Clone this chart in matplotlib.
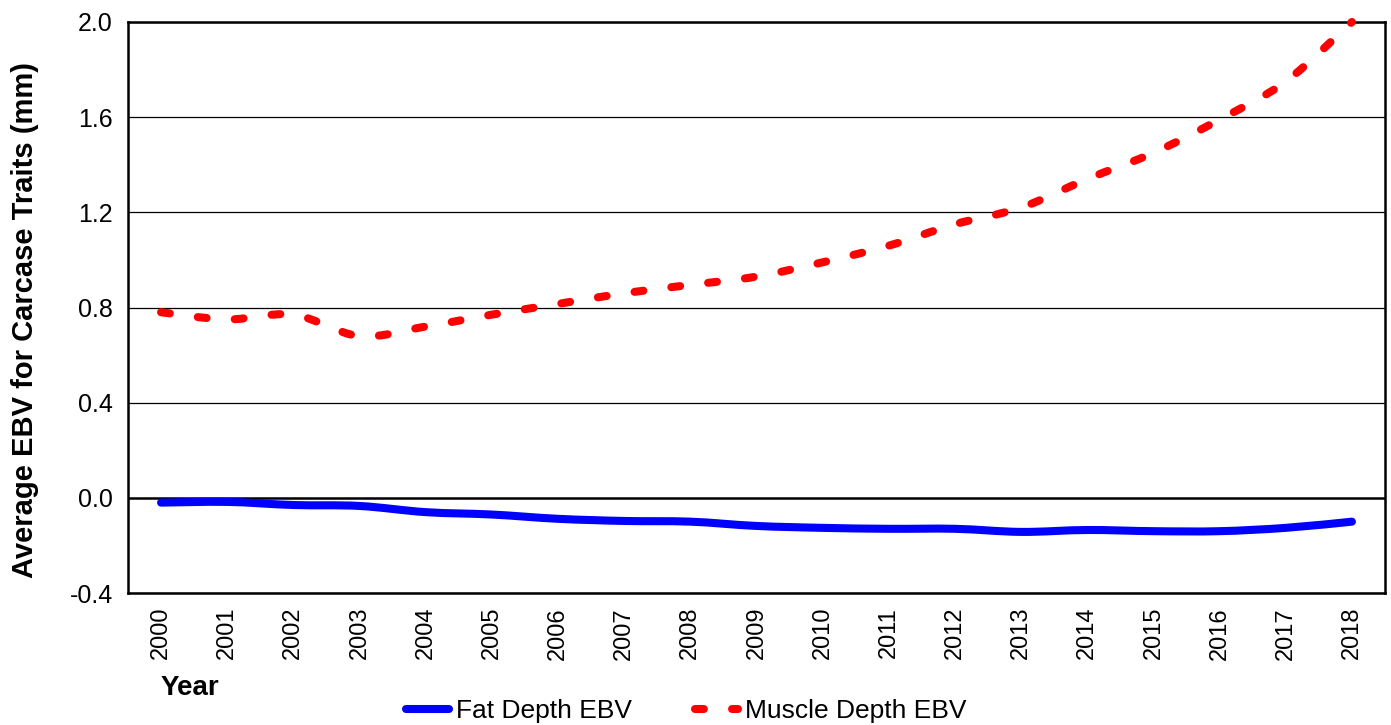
import matplotlib
matplotlib.use("Agg")
import matplotlib.pyplot as plt
import numpy as np
from matplotlib.path import Path
from matplotlib.patches import PathPatch
from matplotlib.lines import Line2D

years = [str(y) for y in range(2000, 2019)]
fat_depth = [-0.020, -0.017, -0.030, -0.034, -0.060, -0.070, -0.088, -0.097, -0.100,
             -0.118, -0.126, -0.130, -0.130, -0.143, -0.135, -0.140, -0.140, -0.126, -0.100]
muscle_depth = [0.78, 0.75, 0.77, 0.68, 0.72, 0.77, 0.815, 0.86, 0.895,
                0.93, 0.99, 1.06, 1.15, 1.22, 1.34, 1.45, 1.59, 1.75, 2.00]
y_ticks = [-0.4, 0.0, 0.4, 0.8, 1.2, 1.6, 2.0]

plt.rcParams['font.family'] = ['Liberation Sans', 'DejaVu Sans']

fig = plt.figure(figsize=(13.91, 7.25), dpi=100)
ax = fig.add_axes([0.092, 0.182, 0.9037, 0.7877])


def smooth_path(xs, ys):
    """Catmull-Rom style smoothed Bezier path through the data points."""
    pts = np.column_stack([xs, ys]).astype(float)
    n = len(pts)
    verts = [pts[0]]
    codes = [Path.MOVETO]
    for i in range(n - 1):
        p0 = pts[i - 1] if i > 0 else pts[i]
        p1 = pts[i]
        p2 = pts[i + 1]
        p3 = pts[i + 2] if i + 2 < n else pts[i + 1]
        c1 = p1 + (p2 - p0) / 6.0
        c2 = p2 - (p3 - p1) / 6.0
        verts += [c1, c2, p2]
        codes += [Path.CURVE4] * 3
    return Path(verts, codes)


x = np.arange(len(years))
for yv in y_ticks:
    ax.axhline(yv, color='black', lw=0.9 if yv != 0 else 1.8, zorder=1)

lw = 5.8
fat_patch = PathPatch(smooth_path(x, fat_depth), fill=False, edgecolor='#0000ff',
                      lw=lw, capstyle='round', joinstyle='round', zorder=3)
ax.add_patch(fat_patch)
mus_patch = PathPatch(smooth_path(x, muscle_depth), fill=False, edgecolor='#ff0000',
                      lw=lw, capstyle='round', linestyle=(0, (1.1, 3.5)), zorder=3,
                      clip_on=False)
ax.add_patch(mus_patch)

ax.set_xlim(-0.5, len(years) - 0.5)
ax.set_ylim(-0.4, 2.0)
ax.set_yticks(y_ticks)
ax.set_yticklabels([f"{v:.1f}" for v in y_ticks], fontsize=18)
ax.set_xticks(x)
ax.set_xticklabels(years, rotation=90, fontsize=17)
ax.tick_params(axis='y', length=0, pad=11)
ax.tick_params(axis='x', length=0, pad=10)
for s in ax.spines.values():
    s.set_linewidth(1.8)
    s.set_color('black')

ax.set_ylabel('Average EBV for Carcase Traits (mm)', fontsize=21, fontweight='bold')
ax.yaxis.set_label_coords(-0.071, 0.478)
fig.text(0.1366, 0.051, 'Year', fontsize=20, fontweight='bold', ha='center', va='center')

handles = [
    Line2D([], [], color='#0000ff', lw=lw, solid_capstyle='round'),
    Line2D([], [], color='#ff0000', lw=lw, dash_capstyle='round', dashes=(1.1, 3.5)),
]
fig.legend(handles, ['Fat Depth EBV', 'Muscle Depth EBV'], loc='center',
           bbox_to_anchor=(0.4935, 0.019), ncol=2, frameon=False,
           fontsize=19, handlelength=1.6, columnspacing=2.4, handletextpad=0.28)

fig.savefig('out.png', dpi=100)
